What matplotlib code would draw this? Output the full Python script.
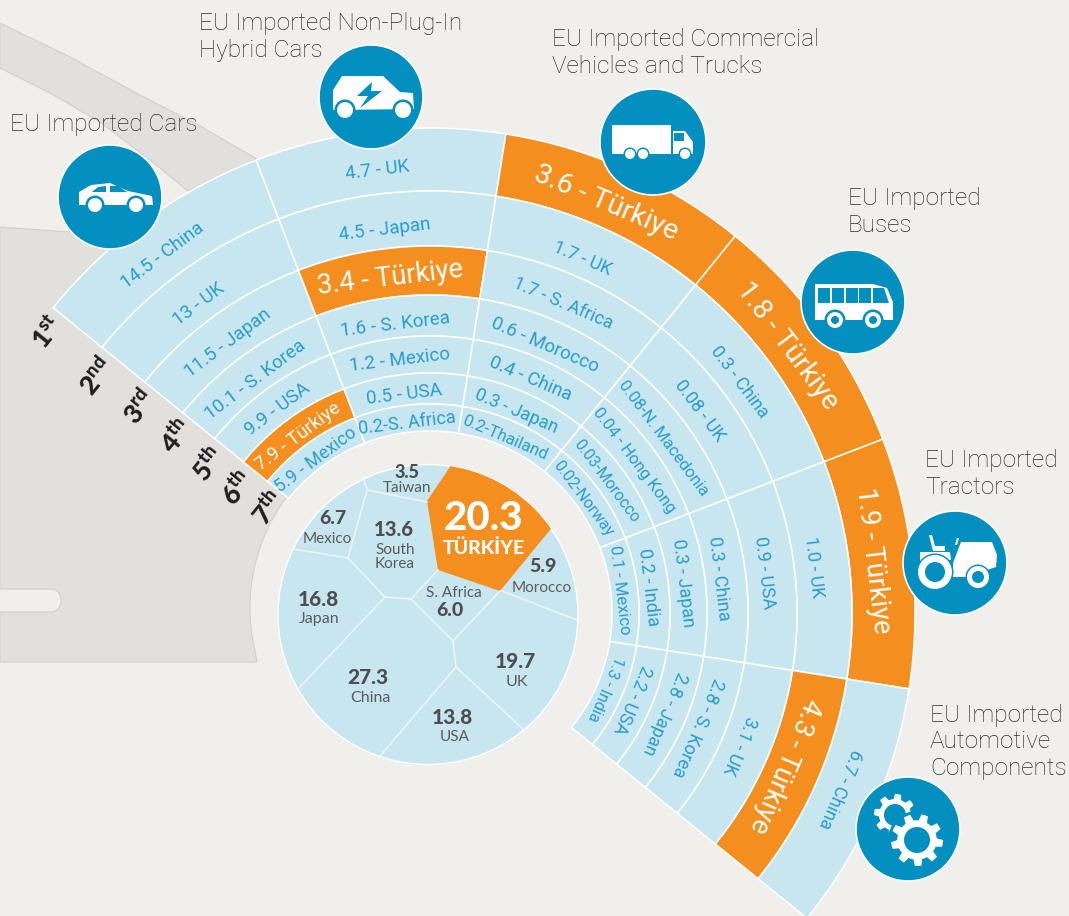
import numpy as np
import matplotlib
matplotlib.use('Agg')
import matplotlib.pyplot as plt
from matplotlib.patches import Circle, Polygon, FancyBboxPatch, Rectangle

plt.rcParams['font.family'] = ['Lato', 'DejaVu Sans']
plt.rcParams['mathtext.fontset'] = 'custom'
plt.rcParams['mathtext.bf'] = 'Lato:black'
plt.rcParams['mathtext.rm'] = 'Lato:black'

# data: one list per group, rank 1 to 7
cars = ['14.5 - China', '13 - UK', '11.5 - Japan', '10.1 - S. Korea', '9.9 - USA', '7.9 - Türkiye', '5.9 - Mexico']
hybrids = ['4.7 - UK', '4.5 - Japan', '3.4 - Türkiye', '1.6 - S. Korea', '1.2 - Mexico', '0.5 - USA', '0.2-S. Africa']
trucks = ['3.6 - Türkiye', '1.7 - UK', '1.7 - S. Africa', '0.6 - Morocco', '0.4 - China', '0.3 - Japan', '0.2-Thailand']
buses = ['1.8 - Türkiye', '0.3 - China', '0.08 - UK', '0.08-N. Macedonia', '0.04 - Hong Kong', '0.03-Morocco', '0.02-Norway']
tractors = ['1.9 - Türkiye', '1.0 - UK', '0.9 - USA', '0.3 - China', '0.3 - Japan', '0.2 - India', '0.1 - Mexico']
components = ['6.7 - China', '4.3 - Türkiye', '3.1 - UK', '2.8 - S. Korea', '2.8 - Japan', '2.2 - USA', '1.3 - India']
groups = [cars, hybrids, trucks, buses, tractors, components]
ranks = ['1^{st}', '2^{nd}', '3^{rd}', '4^{th}', '5^{th}', '6^{th}', '7^{th}']

# total share in the middle circle
pie_values = ['3.5', '6.7', '13.6', '5.9', '6.0', '16.8', '27.3', '19.7', '13.8']
pie_names = ['Taiwan', 'Mexico', 'South\nKorea', 'Morocco', 'S. Africa', 'Japan', 'China', 'UK', 'USA']

titles = ['EU Imported Cars', 'EU Imported Non-Plug-In\nHybrid Cars', 'EU Imported Commercial\nVehicles and Trucks',
          'EU Imported\nBuses', 'EU Imported\nTractors', 'EU Imported\nAutomotive\nComponents']

BG = '#f1efeb'
GREY = '#e2e0dd'
LIGHT = '#c8e6f0'
ORANGE = '#f48f1f'
BLUE = '#038fc0'
TXT = '#2a9dcd'
DARK = '#4e4e50'
TITLE = '#2e2e30'

# layout of the rings, in pixels
cx, cy = 430, 613
edges = [485, 422, 367, 318, 277, 240, 209, 182]
text_r = [446, 386, 337, 291, 255, 220, 191]
start = 141
step = 30
label_px = [[13.5, 13.5, 13.5, 13.5, 13.5, 13.5, 13],
            [13.5, 13.5, 19.5, 13.5, 13.5, 13.5, 13],
            [20.5, 13, 13, 13.5, 13.5, 13, 12],
            [20.3, 13, 13, 12, 12, 11.5, 11.5],
            [19.6, 13, 13, 13, 13, 13, 12],
            [13, 19.2, 13, 13, 13, 13, 11.5]]


def xy(r, a, x0=cx, y0=cy):
    a = np.radians(a)
    return x0 + r * np.cos(a), y0 - r * np.sin(a)


def sector(r1, r2, a1, a2):
    t = np.linspace(a1, a2, 60)
    xs, ys = xy(r2, t)
    xi, yi = xy(r1, t[::-1])
    return np.column_stack([np.r_[xs, xi], np.r_[ys, yi]])


fig = plt.figure(figsize=(10.69, 9.16), dpi=100, facecolor=BG)
ax = fig.add_axes([0, 0, 1, 1])
ax.set_xlim(0, 1069)
ax.set_ylim(916, 0)
ax.axis('off')

# grey road shapes behind everything
band = [(0, 23), (70, 57), (140, 95), (200, 126), (257, 159), (188, 191), (150, 160), (100, 122), (50, 93), (0, 68)]
ax.add_patch(Polygon(band, fc=GREY, ec='#d2d0cd', lw=0.8, zorder=1))
t = np.linspace(142, 188, 30)
edge_x = 437 + 187 * np.cos(np.radians(t))
edge_y = 608 - 187 * np.sin(np.radians(t))
road = [(0, 227), (70, 232), (130, 240)] + list(zip(edge_x, edge_y)) + [(257, 662), (0, 662)]
ax.add_patch(Polygon(road, fc=GREY, ec='#d2d0cd', lw=0.8, zorder=1))
ax.add_patch(FancyBboxPatch((-20, 589), 81, 23, boxstyle='round,pad=0,rounding_size=11.5',
                            fc=BG, ec='#d2d0cd', lw=0.8, zorder=1))

# the rings
for c, names in enumerate(groups):
    a1 = start - c * step
    a2 = a1 - step
    for i, name in enumerate(names):
        is_tr = 'Türkiye' in name
        ax.add_patch(Polygon(sector(edges[i + 1], edges[i], a1, a2), fc=ORANGE if is_tr else LIGHT,
                             ec='white', lw=1.1, zorder=2))
        mid = (a1 + a2) / 2 + 0.8
        x, y = xy(text_r[i], mid)
        ax.text(x, y, name, rotation=mid - 90, rotation_mode='anchor', ha='center', va='center',
                fontsize=label_px[c][i], color='white' if is_tr else TXT, zorder=3,
                family=['Roboto', 'DejaVu Sans'])

# rank labels down the left edge
rank_pos = [(49, 333), (97, 378), (140, 408), (177, 437), (209, 465), (238, 489), (269, 509)]
for (x, y), lab in zip(rank_pos, ranks):
    ax.text(x, y, '$\\mathbf{' + lab + '}$', rotation=51, rotation_mode='anchor', ha='center', va='center',
            fontsize=19, color='#1e1e1e', zorder=3)

# middle circle
px, py, pr = 428, 614.5, 150
disc = Circle((px, py), pr, fc=LIGHT, ec='white', lw=1.0, zorder=2)
ax.add_patch(disc)
tr_cell = Polygon([(450, 467), (427, 501), (438, 570), (500, 591), (550, 530), (620, 440), (450, 430)],
                  fc=ORANGE, ec='none', zorder=3)
ax.add_patch(tr_cell)
tr_cell.set_clip_path(Circle((px, py), pr, transform=ax.transData))
walls = [[(364, 480), (367, 490), (427, 502)], [(367, 490), (348, 558), (293, 549)],
         [(348, 558), (385, 597), (411, 599), (438, 570)], [(385, 597), (299, 688)],
         [(411, 599), (453, 641), (500, 591)], [(453, 641), (456, 667), (380, 756)],
         [(456, 667), (523, 729)], [(502, 591), (577, 620)]]
for w in walls:
    w = np.array(w)
    ax.plot(w[:, 0], w[:, 1], color='#eef6f8', lw=1.1, zorder=4)

val_pos = [(407, 473), (333, 519), (394, 529), (543, 567), (450, 611), (318, 599), (368, 677), (515, 661), (452, 718)]
name_pos = [(407, 488), (327, 539), (395, 557), (542, 588), (454, 593), (319, 619), (370, 698), (517, 682), (455, 737)]
val_size = [13, 14, 14.5, 14, 14, 15, 15, 15, 15]
name_size = [11, 11, 11, 11, 11, 11.5, 11.5, 11.5, 11]
for v, n, vp, np_, vs, ns in zip(pie_values, pie_names, val_pos, name_pos, val_size, name_size):
    ax.text(vp[0], vp[1], v, ha='center', va='center', fontsize=vs, fontweight='black', color=DARK, zorder=5)
    ax.text(np_[0], np_[1], n, ha='center', va='center', fontsize=ns, color='#5b5b5d', linespacing=1.05, zorder=5)
ax.text(483, 518, '20.3', ha='center', va='center', fontsize=29, fontweight='black', color='white', zorder=5)
ax.text(484, 548, 'TÜRKİYE', ha='center', va='center', fontsize=14, fontweight='black', color='white', zorder=5)

# titles
title_pos = [(10, 124), (199, 37), (552, 53), (848, 212), (925, 474), (930, 742)]
for (x, y), s in zip(title_pos, titles):
    ax.text(x, y, s, ha='left', va='center', fontsize=17.6, color=TITLE, linespacing=1.17,
            family=['Roboto', 'DejaVu Sans'], fontweight='light', zorder=6)

# icon badges
Z = 7


def badge(x, y, r=52):
    ax.add_patch(Circle((x, y), r, fc=BLUE, ec='white', lw=1.2, zorder=Z))


def shape(pts, fc='white'):
    ax.add_patch(Polygon(pts, fc=fc, ec='none', zorder=Z + 1))


def wheel(x, y, r, ring=2.5, hole=0):
    ax.add_patch(Circle((x, y), r + ring, fc=BLUE, ec='none', zorder=Z + 2))
    ax.add_patch(Circle((x, y), r, fc='white', ec='none', zorder=Z + 3))
    if hole:
        ax.add_patch(Circle((x, y), hole, fc=BLUE, ec='none', zorder=Z + 4))


def gear(x, y, r, hole, teeth):
    t = np.linspace(0, 2 * np.pi, teeth * 8, endpoint=False)
    prof = np.where((np.arange(teeth * 8) % 8) < 4, r, r * 0.76)
    ax.add_patch(Polygon(np.column_stack([x + prof * np.cos(t), y + prof * np.sin(t)]), fc='white', ec='none', zorder=Z + 2))
    ax.add_patch(Circle((x, y), hole, fc=BLUE, ec='none', zorder=Z + 3))


# car
badge(110, 197)
shape([(79, 205), (79, 192), (91, 185), (110, 183), (128, 191), (152, 196), (153, 205)])
shape([(92, 192), (106, 192), (106, 186), (98, 187)], BLUE)
shape([(110, 192), (127, 192), (118, 186), (110, 186)], BLUE)
wheel(95, 205, 7)
wheel(136, 205, 7)

# hybrid
badge(371, 97)
shape([(333, 110), (333, 90), (342, 76), (383, 76), (400, 92), (413, 93), (414, 109)])
shape([(372, 82), (357, 96), (368, 96), (360, 108), (382, 91), (371, 91)], BLUE)
wheel(345, 110, 8)
wheel(403, 110, 8)

# truck
badge(653, 142, 53)
shape([(612, 125), (671, 125), (671, 154), (612, 154)])
shape([(673, 131), (685, 131), (693, 142), (693, 154), (673, 154)])
shape([(674, 133), (684, 133), (684, 141), (674, 141)], BLUE)
wheel(630, 154, 5, 1.5)
wheel(643, 154, 5, 1.5)
wheel(685, 154, 5, 1.5)

# bus
badge(853, 302)
shape([(815, 284), (873, 284), (887, 288), (893, 302), (893, 320), (815, 320)])
for x0 in [818, 832, 846, 859]:
    ax.add_patch(Rectangle((x0, 288), 11.5, 15, fc=BLUE, ec='none', zorder=Z + 1))
shape([(873, 288), (884, 288), (889, 303), (873, 303)], BLUE)
wheel(835, 320, 8, 2.5, 4)
wheel(873, 320, 8, 2.5, 4)

# tractor
badge(955, 563)
shape([(961, 542), (992, 542), (997, 555), (996, 567), (967, 577), (953, 577), (953, 563)])
shape([(929, 535), (932, 535), (935, 546), (945, 546), (945, 551), (933, 551)])
shape([(920, 552), (950, 552), (951, 560), (920, 562)])
shape([(955, 545), (957, 538), (959, 538), (957, 545)])
wheel(935, 572, 17, 1.5, 10)
wheel(978, 577, 11, 1.5, 6)

# gears
badge(908, 829)
gear(895, 815, 21, 11, 8)
ax.add_patch(Circle((917, 840), 29, fc=BLUE, ec='none', zorder=Z + 4))
gear(917, 840, 26, 13, 9)
for p in ax.patches[-2:]:
    p.set_zorder(p.get_zorder() + 3)

fig.savefig('out.png', dpi=100, facecolor=BG)
